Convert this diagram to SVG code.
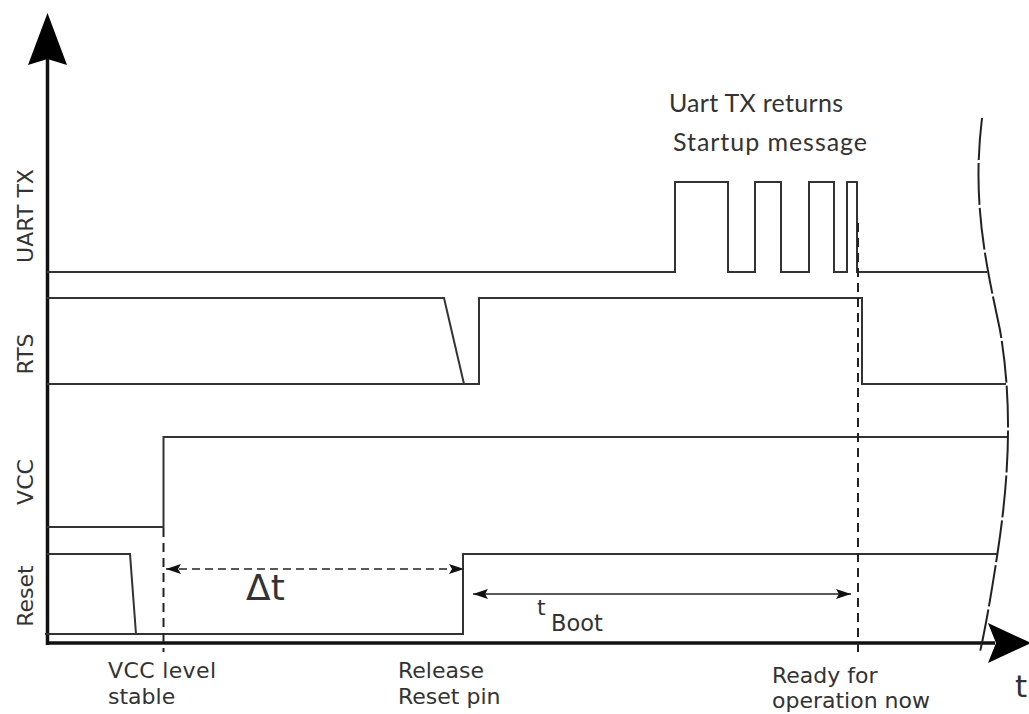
<svg xmlns="http://www.w3.org/2000/svg" width="1029" height="714" viewBox="0 0 1029 714">
<style>
.sig{fill:none;stroke:#333;stroke-width:2;stroke-linejoin:miter}
.axis{fill:none;stroke:#111;stroke-width:3.5}
.dash{fill:none;stroke:#222;stroke-width:2;stroke-dasharray:9,6}
.lbl{font-family:"DejaVu Sans",Verdana,sans-serif;font-size:22px;fill:#333}
.top{font-family:Lato,"Liberation Sans",sans-serif;font-size:25px;fill:#333}
</style>
<defs>
<marker id="ah" markerWidth="16" markerHeight="12" refX="15" refY="6" orient="auto-start-reverse" markerUnits="userSpaceOnUse">
<path d="M0,1 L15,6 L0,11 L3,6 Z" fill="#111"/>
</marker>
</defs>
<g id="axes">
<line class="axis" x1="47.5" y1="645" x2="47.5" y2="58"/>
<path d="M47.5,13 L67,65 L47.5,59 L28,65 Z" fill="#000"/>
<line class="axis" x1="46" y1="643" x2="995" y2="643"/>
<path d="M1031,643 L988,623 L996,643 L988,663 Z" fill="#000"/>
</g>
<g id="connectors">
<g id="uart-tx-signal">
<path class="sig" d="M47,272 H675 V182 H728 V272 H755 V182 H781 V272 H809 V182 H834 V272 H847 V182 H857 V272 H987"/>
</g>
<g id="rts-signal">
<path class="sig" d="M47,298 H444 L464,384"/>
<path class="sig" d="M47,384 H479 V298 H862 V384 H1006"/>
</g>
<g id="vcc-signal">
<path class="sig" d="M47,527 H163.5 V437 H1008"/>
</g>
<g id="reset-signal">
<path class="sig" d="M47,554 H130 L136,634"/>
<path class="sig" d="M45,634 H463 V554 H997"/>
</g>
<line class="dash" x1="163.5" y1="528" x2="163.5" y2="652"/>
<line class="dash" x1="858" y1="223" x2="858" y2="653"/>
<line x1="166" y1="569" x2="464" y2="569" stroke="#222" stroke-width="1.5" stroke-dasharray="8,5" marker-start="url(#ah)" marker-end="url(#ah)"/>
<line x1="473" y1="594" x2="851" y2="594" stroke="#222" stroke-width="1.5" marker-start="url(#ah)" marker-end="url(#ah)"/>
<path d="M982,118 C972,200 985,260 1000,330 C1012,400 1010,470 998,550 C992,590 986,625 980,652" fill="none" stroke="#222" stroke-width="2" stroke-dasharray="42,3"/>
</g>
<g id="labels">
<text class="lbl" transform="translate(33,216) rotate(-90)" text-anchor="middle">UART TX</text>
<text class="lbl" transform="translate(33,354) rotate(-90)" text-anchor="middle">RTS</text>
<text class="lbl" transform="translate(33,482) rotate(-90)" text-anchor="middle">VCC</text>
<text class="lbl" transform="translate(33,596) rotate(-90)" text-anchor="middle">Reset</text>
<text class="lbl" x="108" y="678" textLength="108">VCC level</text>
<text class="lbl" x="108" y="704">stable</text>
<text class="lbl" x="398" y="678">Release</text>
<text class="lbl" x="398" y="704">Reset pin</text>
<text class="lbl" x="772" y="683">Ready for</text>
<text class="lbl" x="772" y="708">operation now</text>
<text class="lbl" x="1015" y="697" style="font-size:31px">t</text>
<text class="lbl" x="246" y="600" style="font-size:36px">Δt</text>
<text class="lbl" x="537" y="615">t</text>
<text class="lbl" x="551" y="631" style="font-size:22.5px">Boot</text>
<text class="top" x="669" y="112" textLength="174">Uart TX returns</text>
<text class="top" x="673" y="151" textLength="194">Startup message</text>
</g>
</svg>
